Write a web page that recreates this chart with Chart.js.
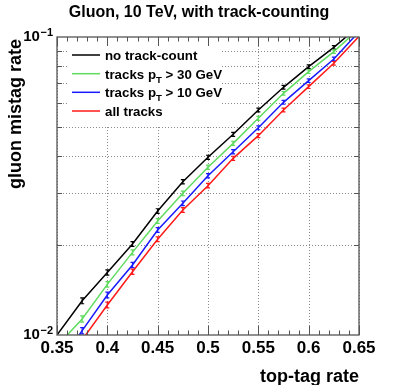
<!DOCTYPE html>
<html><head><meta charset="utf-8">
<script src="https://cdn.jsdelivr.net/npm/chart.js@4/dist/chart.umd.min.js"></script>
<style>html,body{margin:0;padding:0;background:#fff;overflow:hidden}#c{display:block}</style>
</head><body>
<canvas id="c" width="399" height="385"></canvas>
<script>
// ---------------- data ----------------
const xValues = [0.35, 0.375, 0.4, 0.425, 0.45, 0.475, 0.5, 0.525, 0.55, 0.575, 0.6, 0.625, 0.65];

const noTrackCount = [0.0100, 0.01303, 0.01622, 0.0202, 0.02607, 0.03268, 0.03947, 0.04715, 0.05689, 0.06779, 0.0795, 0.0923, 0.109];
const tracksPt30   = [0.00918, 0.01132, 0.01479, 0.01894, 0.02413, 0.02988, 0.03653, 0.04396, 0.05334, 0.06471, 0.0765, 0.0893, 0.1065];
const tracksPt10   = [0.0078, 0.01034, 0.01362, 0.01718, 0.02251, 0.02767, 0.03424, 0.04122, 0.0496, 0.06036, 0.07137, 0.08436, 0.1042];
const allTracks    = [0.0074, 0.00963, 0.01261, 0.01631, 0.02096, 0.02627, 0.0317, 0.03916, 0.04665, 0.05689, 0.06814, 0.0816, 0.1005];

const errNoTrackCount = [null, 0.00030, 0.00033, 0.00038, 0.00046, 0.00055, 0.00064, 0.00073, 0.00085, 0.00098, 0.00112, 0.00127, null];
const errTracksPt30   = [null, 0.00027, 0.00031, 0.00036, 0.00044, 0.00051, 0.00060, 0.00069, 0.00080, 0.00093, 0.00108, 0.00123, null];
const errTracksPt10   = [null, 0.00025, 0.00030, 0.00034, 0.00042, 0.00049, 0.00058, 0.00066, 0.00076, 0.00088, 0.00102, 0.00118, null];
const errAllTracks    = [null, 0.00024, 0.00028, 0.00033, 0.00040, 0.00047, 0.00055, 0.00064, 0.00073, 0.00085, 0.00098, 0.00114, null];

const seriesNames  = ['no track-count', 'tracks p_{T} > 30 GeV', 'tracks p_{T} > 10 GeV', 'all tracks'];
const seriesColors = ['#000000', '#5fdc5f', '#1a1aff', '#ff1a1a'];

const xTickValues = [0.35, 0.4, 0.45, 0.5, 0.55, 0.6, 0.65];
const xTickLabels = ['0.35', '0.4', '0.45', '0.5', '0.55', '0.6', '0.65'];
const xMinorStep  = 0.01;
const yMajorValues = [0.01, 0.1];
const yMajorExps   = ['\u22122', '\u22121'];
const yMinorValues = [0.02, 0.03, 0.04, 0.05, 0.06, 0.07, 0.08, 0.09];

const chartTitle = 'Gluon, 10 TeV, with track-counting';
const xTitle = 'top-tag rate';
const yTitle = 'gluon mistag rate';

// ---------------- drawing helpers ----------------
const FONT = '"Liberation Sans", Arial, Helvetica, sans-serif';
const seriesValues = [noTrackCount, tracksPt30, tracksPt10, allTracks];
const seriesErrors = [errNoTrackCount, errTracksPt30, errTracksPt10, errAllTracks];

function drawLatex(ctx, text, x, y, size) {
  const parts = [];
  const re = /_\{([^}]*)\}/g;
  let last = 0, m;
  while ((m = re.exec(text)) !== null) {
    parts.push({t: text.slice(last, m.index), sub: false});
    parts.push({t: m[1], sub: true});
    last = re.lastIndex;
  }
  parts.push({t: text.slice(last), sub: false});
  let cx = x;
  for (const p of parts) {
    if (!p.t) continue;
    const s = p.sub ? size * 0.72 : size;
    ctx.font = 'bold ' + s + 'px ' + FONT;
    ctx.fillText(p.t, cx, p.sub ? y + size * 0.3 : y);
    cx += ctx.measureText(p.t).width;
  }
}

const rootPlugin = {
  id: 'rootStyle',
  beforeDatasetsDraw(chart) {
    const {ctx, chartArea: a, scales: {x, y}} = chart;
    ctx.save();
    ctx.strokeStyle = '#8a8a8a';
    ctx.lineWidth = 1;
    ctx.setLineDash([1, 2]);
    ctx.beginPath();
    for (const v of xTickValues) {
      const px = Math.round(x.getPixelForValue(v)) + 0.5;
      ctx.moveTo(px, a.top); ctx.lineTo(px, a.bottom);
    }
    for (const v of yMinorValues) {
      const py = Math.round(y.getPixelForValue(v)) + 0.5;
      ctx.moveTo(a.left, py); ctx.lineTo(a.right, py);
    }
    ctx.stroke();
    ctx.setLineDash([]);
    ctx.fillStyle = '#ffffff';
    ctx.fillRect(67, 45, 153, 80);
    ctx.restore();
  },
  afterDatasetsDraw(chart) {
    const {ctx, chartArea: a, scales: {x, y}} = chart;
    ctx.save();
    ctx.beginPath();
    ctx.rect(a.left, a.top, a.right - a.left, a.bottom - a.top);
    ctx.clip();
    ctx.lineWidth = 1.2;
    seriesValues.forEach((vals, si) => {
      ctx.strokeStyle = seriesColors[si];
      ctx.beginPath();
      vals.forEach((v, i) => {
        const e = seriesErrors[si][i];
        if (e == null) return;
        const px = x.getPixelForValue(xValues[i]);
        const y1 = y.getPixelForValue(v - e);
        const y2 = y.getPixelForValue(v + e);
        ctx.moveTo(px, y1); ctx.lineTo(px, y2);
        ctx.moveTo(px - 2, y1); ctx.lineTo(px + 2, y1);
        ctx.moveTo(px - 2, y2); ctx.lineTo(px + 2, y2);
      });
      ctx.stroke();
    });
    ctx.restore();

    ctx.save();
    ctx.strokeStyle = '#555';
    ctx.lineWidth = 1.3;
    ctx.strokeRect(a.left, a.top, a.right - a.left, a.bottom - a.top);
    ctx.lineWidth = 1;
    ctx.beginPath();
    const x0 = xTickValues[0], x1 = xTickValues[xTickValues.length - 1];
    const nMinor = Math.round((x1 - x0) / xMinorStep);
    for (let k = 0; k <= nMinor; k++) {
      const v = x0 + k * xMinorStep;
      const major = k % 5 === 0;
      const len = major ? 9 : 4.5;
      const px = Math.round(x.getPixelForValue(v)) + 0.5;
      ctx.moveTo(px, a.bottom); ctx.lineTo(px, a.bottom - len);
      ctx.moveTo(px, a.top); ctx.lineTo(px, a.top + len);
    }
    for (const v of yMinorValues) {
      const py = Math.round(y.getPixelForValue(v)) + 0.5;
      ctx.moveTo(a.left, py); ctx.lineTo(a.left + 5, py);
      ctx.moveTo(a.right, py); ctx.lineTo(a.right - 5, py);
    }
    ctx.stroke();

    ctx.fillStyle = '#000';
    ctx.font = 'bold 17px ' + FONT;
    ctx.textAlign = 'center';
    ctx.textBaseline = 'alphabetic';
    xTickValues.forEach((v, i) => {
      ctx.fillText(xTickLabels[i], x.getPixelForValue(v), a.bottom + 18);
    });
    yMajorValues.forEach((v, i) => {
      const py = y.getPixelForValue(v);
      ctx.textAlign = 'right';
      ctx.font = 'bold 11px ' + FONT;
      const ew = ctx.measureText(yMajorExps[i]).width;
      ctx.fillText(yMajorExps[i], a.left - 4, py - 1);
      ctx.font = 'bold 15px ' + FONT;
      ctx.fillText('10', a.left - 4 - ew - 0.5, py + 4);
    });

    ctx.textAlign = 'center';
    ctx.font = 'bold 16px ' + FONT;
    ctx.fillText(chartTitle, 199, 17);
    ctx.textAlign = 'right';
    ctx.font = 'bold 18px ' + FONT;
    ctx.fillText(xTitle, a.right, 382);
    ctx.save();
    ctx.translate(21, a.top + 2);
    ctx.rotate(-Math.PI / 2);
    ctx.textAlign = 'right';
    ctx.fillText(yTitle, 0, 0);
    ctx.restore();

    ctx.textAlign = 'left';
    const rows = [55, 73.7, 92.3, 111];
    seriesNames.forEach((name, i) => {
      ctx.strokeStyle = seriesColors[i];
      ctx.lineWidth = 1.5;
      ctx.beginPath();
      ctx.moveTo(72, rows[i]); ctx.lineTo(100, rows[i]);
      ctx.stroke();
      ctx.fillStyle = '#000';
      drawLatex(ctx, name, 105, rows[i] + 5, 13.3);
    });
    ctx.restore();
  }
};

new Chart(document.getElementById('c').getContext('2d'), {
  type: 'line',
  data: {
    datasets: seriesValues.map((vals, si) => ({
      label: seriesNames[si],
      data: xValues.map((xv, i) => ({x: xv, y: vals[i]})),
      borderColor: seriesColors[si],
      backgroundColor: seriesColors[si],
      borderWidth: 1.5,
      pointRadius: 0,
      tension: 0,
      fill: false,
      clip: 0
    }))
  },
  options: {
    responsive: false,
    animation: false,
    devicePixelRatio: 1,
    layout: {padding: {left: 57, right: 40, top: 37, bottom: 50}},
    plugins: {legend: {display: false}, title: {display: false}, tooltip: {enabled: false}},
    scales: {
      x: {type: 'linear', min: 0.35, max: 0.65, display: false},
      y: {type: 'logarithmic', min: 0.01, max: 0.1, display: false}
    }
  },
  plugins: [rootPlugin]
});
</script>
</body></html>
